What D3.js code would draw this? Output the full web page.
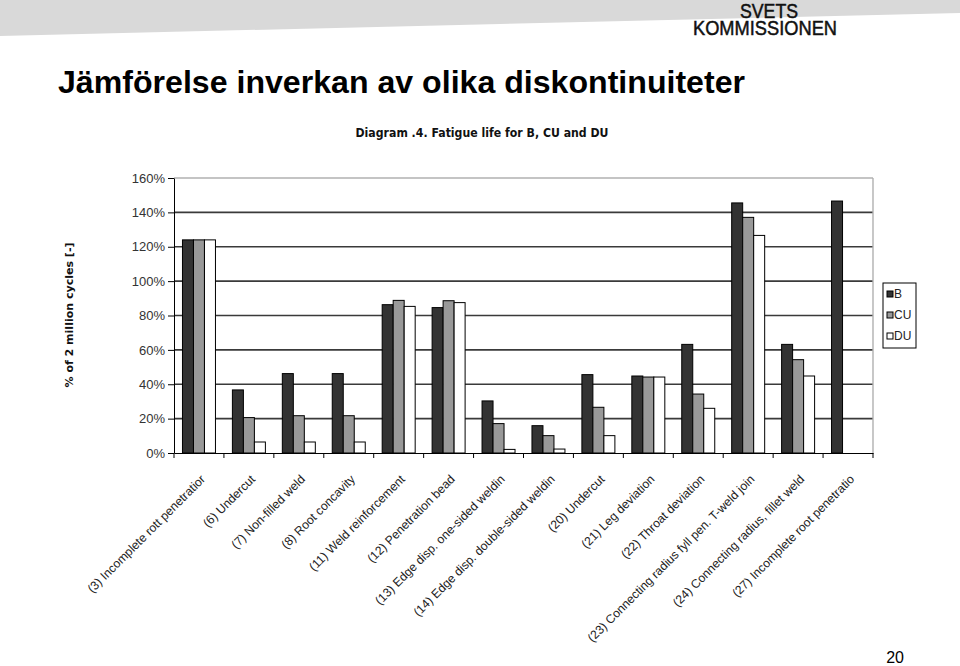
<!DOCTYPE html>
<html>
<head>
<meta charset="utf-8">
<script src="https://cdn.jsdelivr.net/npm/d3@7"></script>
<style>
  html, body { margin: 0; padding: 0; background: #fff; }
  svg { display: block; }
</style>
</head>
<body>
<svg id="chart" width="960" height="666"></svg>
<script>
const categories = [
  "(3) Incomplete rott penetratior",
  "(6) Undercut",
  "(7) Non-filled weld",
  "(8) Root concavity",
  "(11) Weld reinforcement",
  "(12) Penetration bead",
  "(13) Edge disp. one-sided weldin",
  "(14) Edge disp. double-sided weldin",
  "(20) Undercut",
  "(21) Leg deviation",
  "(22) Throat deviation",
  "(23) Connecting radius fyll pen. T-weld join",
  "(24) Connecting radius, fillet weld",
  "(27) Incomplete root penetratio"
];
const seriesNames = ["B", "CU", "DU"];
const valuesB  = [124, 36.7, 46.2, 46.2, 86.3, 84.6, 30.3, 15.9, 45.6, 44.8, 63.2, 145.5, 63.2, 146.6];
const valuesCU = [124, 20.6, 21.7, 21.7, 88.8, 88.6, 17.1, 10.1, 26.6, 44.2, 34.3, 137.1, 54.3, null];
const valuesDU = [124, 6.4, 6.4, 6.4, 85.3, 87.5, 2.1, 2.3, 10.1, 44.2, 26.0, 126.6, 44.8, null];
const yTicks = [0, 20, 40, 60, 80, 100, 120, 140, 160];

const seriesValues = { B: valuesB, CU: valuesCU, DU: valuesDU };
const seriesFill = { B: "#333333", CU: "#999999", DU: "#ffffff" };

const svg = d3.select("#chart");

// header band
svg.append("path")
  .attr("d", "M0,0 L960,0 L960,13 L0,36 Z")
  .attr("fill", "#d9d9d9");

// logo
svg.append("text").attr("x", 769).attr("y", 18)
  .attr("text-anchor", "middle")
  .attr("font-family", "Liberation Sans, Arial, sans-serif")
  .attr("font-size", 21)
  .attr("textLength", 58).attr("lengthAdjust", "spacingAndGlyphs")
  .attr("fill", "#111").attr("stroke", "#111").attr("stroke-width", 0.5)
  .text("SVETS");
svg.append("text").attr("x", 765).attr("y", 35)
  .attr("text-anchor", "middle")
  .attr("font-family", "Liberation Sans, Arial, sans-serif")
  .attr("font-size", 21)
  .attr("textLength", 144).attr("lengthAdjust", "spacingAndGlyphs")
  .attr("fill", "#111").attr("stroke", "#111").attr("stroke-width", 0.5)
  .text("KOMMISSIONEN");

// main title
svg.append("text").attr("x", 58).attr("y", 93)
  .attr("font-family", "Liberation Sans, Arial, sans-serif")
  .attr("font-weight", "bold")
  .attr("font-size", 32)
  .attr("textLength", 687).attr("lengthAdjust", "spacingAndGlyphs")
  .attr("fill", "#000").text("Jämförelse inverkan av olika diskontinuiteter");

// page number
svg.append("text").attr("x", 904).attr("y", 663)
  .attr("text-anchor", "end")
  .attr("font-family", "Liberation Sans, Arial, sans-serif")
  .attr("font-size", 16).attr("fill", "#000").text("20");

// chart title
svg.append("text").attr("x", 482).attr("y", 137)
  .attr("text-anchor", "middle")
  .attr("font-family", "DejaVu Sans, Verdana, sans-serif")
  .attr("font-weight", "bold")
  .attr("font-size", 13)
  .attr("textLength", 253).attr("lengthAdjust", "spacingAndGlyphs")
  .attr("fill", "#111").text("Diagram .4. Fatigue life for B, CU and DU");

const plotLeft = 174, plotRight = 873, plotTop = 178, plotBottom = 453;

const x = d3.scaleBand().domain(categories).range([plotLeft, plotRight]).paddingInner(0).paddingOuter(0);
const xs = d3.scaleBand().domain(seriesNames).range([0, x.bandwidth()]).paddingInner(0).paddingOuter(0.77);
const y = d3.scaleLinear().domain([0, 160]).range([plotBottom, plotTop]);

// gridlines
svg.append("g").selectAll("line")
  .data(yTicks.filter(d => d > 0 && d < 160))
  .join("line")
  .attr("x1", plotLeft).attr("x2", plotRight)
  .attr("y1", d => y(d)).attr("y2", d => y(d))
  .attr("stroke", "#3a3a3a").attr("stroke-width", 1.6);

// top & right light border
svg.append("line").attr("x1", plotLeft).attr("x2", plotRight).attr("y1", y(160)).attr("y2", y(160))
  .attr("stroke", "#b0b0b0").attr("stroke-width", 1.4);
svg.append("line").attr("x1", plotRight).attr("x2", plotRight).attr("y1", y(160)).attr("y2", plotBottom)
  .attr("stroke", "#b0b0b0").attr("stroke-width", 1.4);

// bars
const barData = [];
categories.forEach((c, i) => {
  seriesNames.forEach(s => {
    const v = seriesValues[s][i];
    if (v != null) barData.push({ c, s, v });
  });
});
svg.append("g").selectAll("rect")
  .data(barData)
  .join("rect")
  .attr("x", d => x(d.c) + xs(d.s))
  .attr("width", xs.bandwidth())
  .attr("y", d => y(d.v))
  .attr("height", d => y(0) - y(d.v))
  .attr("fill", d => seriesFill[d.s])
  .attr("stroke", "#000").attr("stroke-width", 1);

// y axis
const yAxis = d3.axisLeft(y).tickValues(yTicks).tickFormat(d => d + "%").tickSize(6).tickSizeOuter(0);
const gy = svg.append("g").attr("transform", `translate(${plotLeft},0)`).call(yAxis);
gy.select(".domain").attr("stroke", "#000");
gy.selectAll(".tick line").attr("stroke", "#000");
gy.selectAll(".tick text")
  .attr("font-family", "Liberation Sans, Arial, sans-serif")
  .attr("font-size", 13).attr("fill", "#333").attr("x", -9);

// x axis
const xAxis = d3.axisBottom(x).tickSize(0).tickFormat("");
const gx = svg.append("g").attr("transform", `translate(0,${plotBottom})`).call(xAxis);
gx.select(".domain").attr("stroke", "#000");
gx.selectAll(".tick").remove();
const bounds = categories.map(c => x(c)).concat([plotRight]);
svg.append("g").selectAll("line").data(bounds).join("line")
  .attr("x1", d => d).attr("x2", d => d)
  .attr("y1", plotBottom).attr("y2", plotBottom + 5)
  .attr("stroke", "#000");

// rotated category labels
svg.append("g").selectAll("text").data(categories).join("text")
  .attr("transform", d => `translate(${x(d) + x.bandwidth() / 2 + 7},${plotBottom + 27}) rotate(-45)`)
  .attr("text-anchor", "end")
  .attr("font-family", "Liberation Sans, Arial, sans-serif")
  .attr("font-size", 12.2).attr("fill", "#222")
  .text(d => d);

// y axis title
svg.append("text")
  .attr("transform", "translate(73,315) rotate(-90)")
  .attr("text-anchor", "middle")
  .attr("font-family", "DejaVu Sans, Verdana, sans-serif")
  .attr("font-weight", "bold").attr("font-size", 11)
  .attr("textLength", 145).attr("lengthAdjust", "spacingAndGlyphs")
  .attr("fill", "#111").text("% of 2 million cycles [-]");

// legend
const lg = svg.append("g");
lg.append("rect").attr("x", 883).attr("y", 283).attr("width", 33).attr("height", 65)
  .attr("fill", "#fff").attr("stroke", "#000").attr("stroke-width", 1);
seriesNames.forEach((s, i) => {
  const cy = 294 + i * 21;
  lg.append("rect").attr("x", 887).attr("y", cy - 3).attr("width", 6).attr("height", 6)
    .attr("fill", seriesFill[s]).attr("stroke", "#000").attr("stroke-width", 1);
  lg.append("text").attr("x", 894).attr("y", cy + 4)
    .attr("font-family", "Liberation Sans, Arial, sans-serif")
    .attr("font-size", 12).attr("fill", "#222").text(s);
});
</script>
</body>
</html>
